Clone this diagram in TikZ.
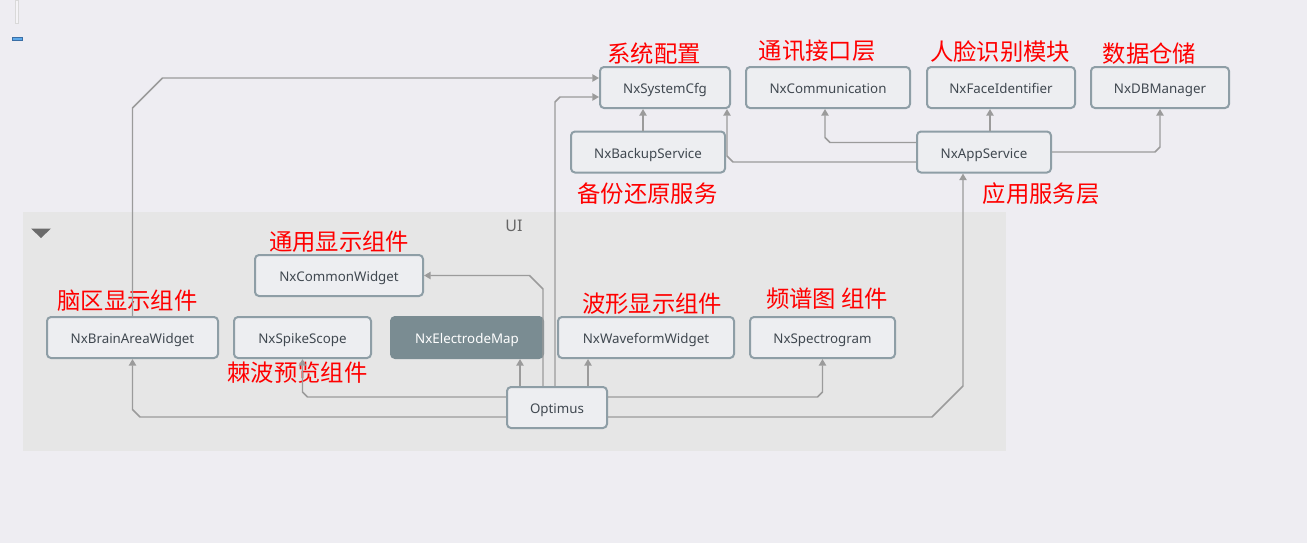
\documentclass[tikz,border=0pt]{standalone}
\usepackage{fontspec}
\setmainfont{Noto Sans}
\newfontfamily\cjk{Noto Sans CJK SC}
\usetikzlibrary{arrows.meta}
\definecolor{pagebg}{RGB}{238,237,242}
\definecolor{uibg}{RGB}{230,230,230}
\definecolor{boxline}{RGB}{142,158,166}
\definecolor{boxfill}{RGB}{237,238,241}
\definecolor{boxtext}{RGB}{64,72,80}
\definecolor{darkbox}{RGB}{122,140,146}
\definecolor{linegray}{RGB}{155,155,155}

\begin{document}
\begin{tikzpicture}[x=0.75pt,y=-0.75pt,
    box/.style={draw=boxline,fill=boxfill,line width=1.5pt,rounded corners=3pt,
        minimum height=30.75pt,inner sep=0pt,text height=9pt,text depth=0pt,
        text=boxtext,font=\fontsize{10}{12}\selectfont},
    tag/.style={text=red,inner sep=0pt,font=\cjk\fontsize{17.5}{20}\selectfont},
    conn/.style={draw=linegray,line width=1.1pt,-{Triangle[length=5pt,width=5.5pt]}}]
    \fill[pagebg](0,0)rectangle(1307,543);
    \useasboundingbox(0,0)rectangle(1307,543);
    \filldraw[draw=black!15,fill=pagebg!60!white](15,0)rectangle(18.5,23.5);
    \filldraw[draw={rgb,255:red,58;green,110;blue,165},fill={rgb,255:red,93;green,169;blue,233}](12,37)rectangle(22,40.5);

    % UI group
    \fill[uibg](23,212)rectangle(1006,451);
    \fill[black!58](31,228.5)--(51,228.5)--(41,238)--cycle;
    \node[text=black!60,font=\fontsize{12}{14}\selectfont](ui)at(514,226){UI};

    % upper layer
    \node[box,minimum width=97.5pt](sys)at(665,87.5){NxSystemCfg};
    \node[box,minimum width=123pt](comm)at(828,87.5){NxCommunication};
    \node[box,minimum width=111pt](face)at(1001,87.5){NxFaceIdentifier};
    \node[box,minimum width=103.5pt](db)at(1160,87.5){NxDBManager};
    \node[box,minimum width=115.5pt](backup)at(648,152){NxBackupService};
    \node[box,minimum width=100.5pt](app)at(984,152){NxAppService};

    % UI layer
    \node[box,minimum width=126pt](common)at(339,275.5){NxCommonWidget};
    \node[box,minimum width=128.25pt](brain)at(132.5,337.5){NxBrainAreaWidget};
    \node[box,minimum width=102.75pt](spike)at(302.5,337.5){NxSpikeScope};
    \node[box,minimum width=114pt,draw=darkbox,fill=darkbox,text=white](electrode)at(467,337.5){NxElectrodeMap};
    \node[box,minimum width=132pt](wave)at(646,337.5){NxWaveformWidget};
    \node[box,minimum width=108.75pt](spectro)at(822.5,337.5){NxSpectrogram};
    \node[box,minimum width=75pt](optimus)at(557,407.5){Optimus};

    \node[tag](tsys)at(654,54){系统配置};
    \node[tag](tcomm)at(817,51){通讯接口层};
    \node[tag](tface)at(1000,52){人脸识别模块};
    \node[tag](tdb)at(1149.5,54){数据仓储};
    \node[tag](tbackup)at(647.5,194){备份还原服务};
    \node[tag](tapp)at(1041,193.5){应用服务层};
    \node[tag](tcommon)at(339,242){通用显示组件};
    \node[tag](tbrain)at(127.5,301){脑区显示组件};
    \node[tag](tspike)at(297.5,372.5){棘波预览组件};
    \node[tag](twave)at(652,304){波形显示组件};
    \node[tag](tspectro)at(827,299){频谱图\hspace{4pt}组件};

    \draw[conn](brain.north)--(132.5,108)--(162.5,78)--(sys.west|-0,78);
    \draw[conn](backup.north-|643,0)--(sys.south-|643,0);
    \draw[conn](app.west|-0,162)--(733,162)--(727,156)--(sys.south-|727,0);
    \draw[conn](app.west|-0,142.5)--(830,142.5)--(825,137.5)--(comm.south-|825,0);
    \draw[conn](app.north-|990,0)--(face.south-|990,0);
    \draw[conn](app.east)--(1155,152)--(1160,147)--(db.south);
    \draw[conn](optimus.north-|555,0)--(555,102)--(560,97)--(sys.west|-0,97);
    \draw[conn](optimus.north-|543,0)--(543,289)--(529.5,275.5)--(common.east);
    \draw[conn](optimus.north-|520,0)--(electrode.south-|520,0);
    \draw[conn](optimus.north-|588,0)--(wave.south-|588,0);
    \draw[conn](optimus.east|-0,397)--(817.5,397)--(822.5,392)--(spectro.south);
    \draw[conn](optimus.west|-0,397)--(307.5,397)--(302.5,392)--(spike.south);
    \draw[conn](optimus.west|-0,417)--(140,417)--(132.5,409.5)--(brain.south);
    \draw[conn](optimus.east|-0,417)--(932,417)--(963,386)--(app.south-|963,0);
\end{tikzpicture}
\end{document}
